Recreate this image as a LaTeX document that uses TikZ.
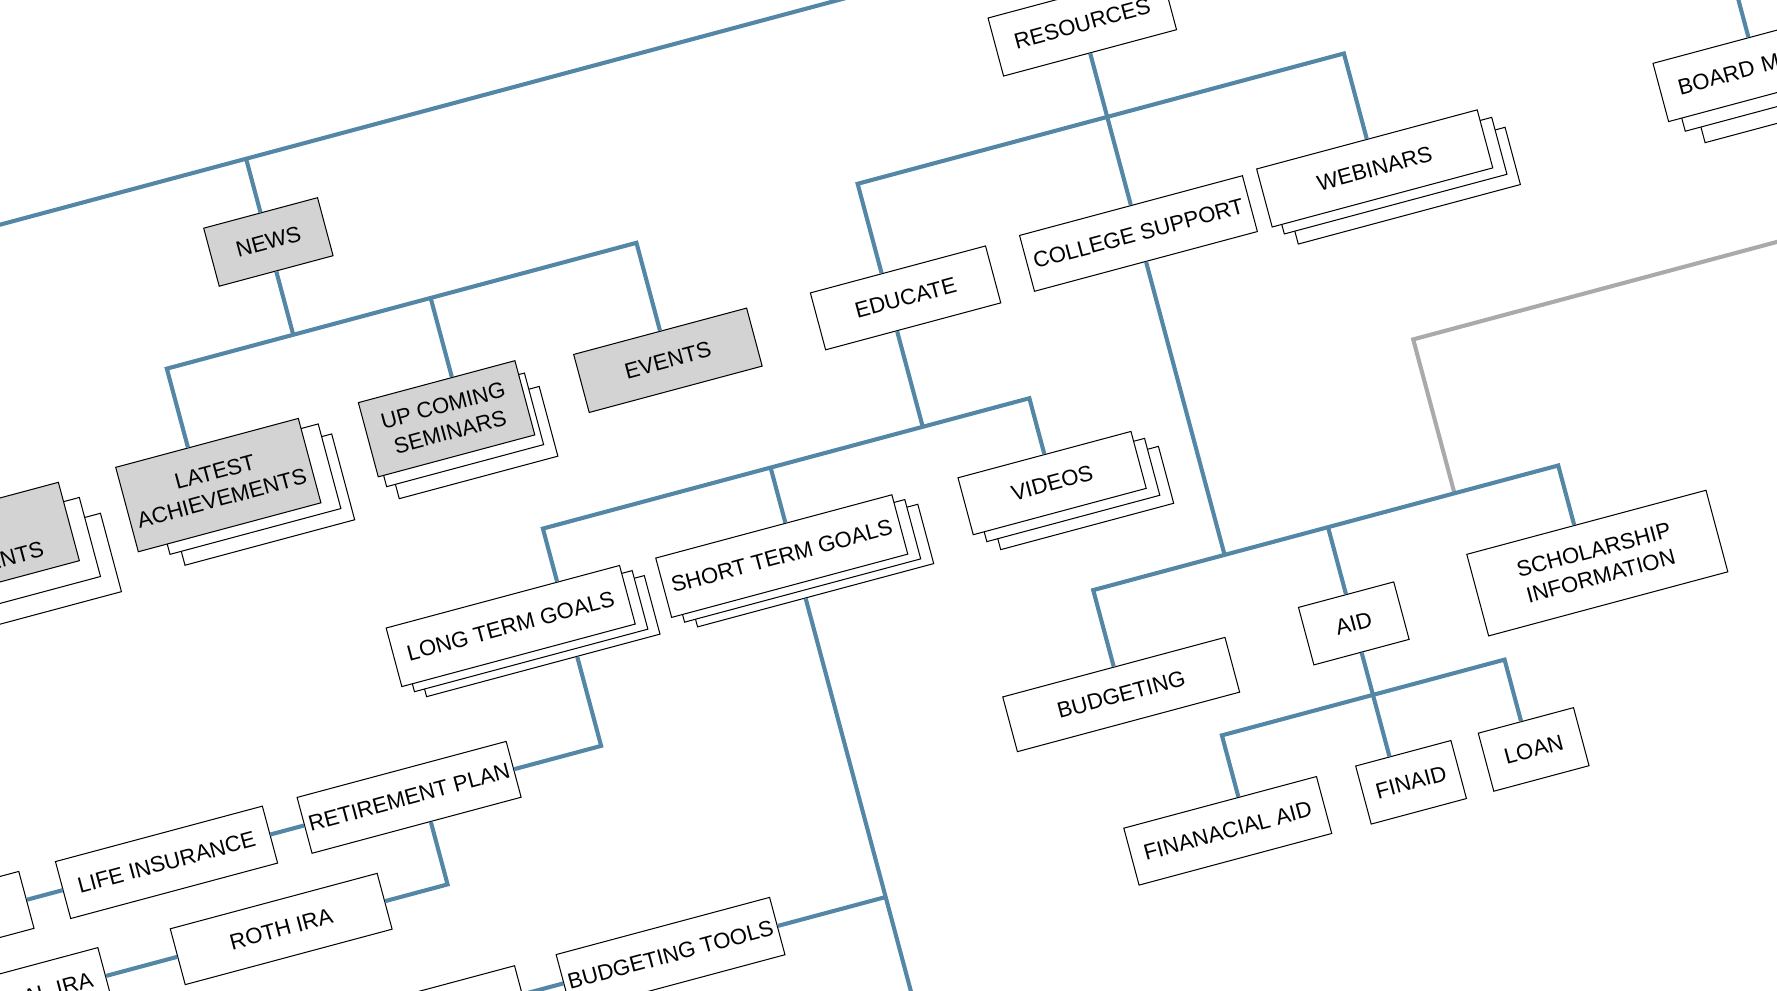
\documentclass[tikz,border=0pt]{standalone}
\usepackage{fontspec}
\setmainfont{Liberation Sans}
\definecolor{linkblue}{RGB}{84,134,166}
\definecolor{linkgray}{RGB}{170,170,170}
\definecolor{boxgray}{RGB}{211,211,211}
\tikzset{
  box/.style={draw=black, line width=0.9pt, fill=white, rectangle, inner sep=0pt, align=center, text=black, font=\fontsize{19.5}{24}\selectfont},
  gbox/.style={box, fill=boxgray},
  conn/.style={draw=linkblue, line width=3.6pt},
  gconn/.style={draw=linkgray, line width=3.6pt},
  shbox/.style={draw=black, line width=0.9pt, fill=white},
  lbl/.style={inner sep=0pt, text=black, font=\fontsize{19.5}{24}\selectfont},
}
\begin{document}
\begin{tikzpicture}[x=1pt,y=1pt]
\useasboundingbox (0,0) rectangle (1568,-873.6);
\fill[white] (0,0) rectangle (1568,-873.6);
\clip (0,0) rectangle (1568,-873.6);
\begin{scope}[transform canvas={rotate=15}]
% ---------- level 1
\node[gbox, minimum width=104, minimum height=53] (news) at (173.5,-267.5) {NEWS};
\node[box, minimum width=158, minimum height=53] (resources) at (917,-267.5) {RESOURCES};
% ---------- level 2
\draw[shbox] (-198.6,-532) rectangle (-31.6,-460.4);
\draw[shbox] (-213,-514.3) rectangle (-46,-442.1);
\node[gbox, minimum width=167, minimum height=71.6] (ents) at (-143.9,-460.2) {};
\node[lbl, anchor=base east] (entslbl) at (-88.3,-484) {ENTS};
\draw[shbox] (28.6,-524) rectangle (183.6,-445.6);
\draw[shbox] (18.3,-511.3) rectangle (174.4,-434);
\node[gbox, minimum width=166.8, minimum height=77.1] (latest) at (75.3,-463.3) {LATEST\\ACHIEVEMENTS};
\draw[shbox] (226.4,-516.2) rectangle (371.3,-452.5);
\draw[shbox] (218.4,-503.1) rectangle (361.8,-437.7);
\node[gbox, minimum width=143, minimum height=67.8] (upcoming) at (285,-458.9) {UP COMING\\SEMINARS};
\node[gbox, minimum width=158, minimum height=53] (events) at (487,-459.6) {EVENTS};
\node[box, minimum width=160, minimum height=52] (educate) at (703.8,-460.7) {EDUCATE};
\node[box, minimum width=203.6, minimum height=51] (college) at (917,-459) {COLLEGE SUPPORT};
\draw[shbox] (1050.8,-504.5) rectangle (1253.7,-452.2);
\draw[shbox] (1041.2,-492.7) rectangle (1244.6,-440.7);
\node[box, minimum width=201.5, minimum height=53] (webinars) at (1133.2,-457.5) {WEBINARS};
\draw[shbox] (1420.7,-511) rectangle (1625.7,-457.8);
\draw[shbox] (1406.4,-496.7) rectangle (1611.4,-443.5);
\node[box, minimum width=205, minimum height=53.2, text width=173, align=left] (board) at (1496.9,-458.1) {BOARD M};
% ---------- level 3
\draw[shbox] (204.5,-691.2) rectangle (417.7,-637.7);
\draw[shbox] (195.3,-684.2) rectangle (408.5,-630.7);
\node[box, minimum width=213.2, minimum height=53.5] (long) at (292.3,-650.2) {LONG TERM GOALS};
\draw[shbox] (451.4,-693.6) rectangle (667.1,-639.4);
\draw[shbox] (441.4,-686.6) rectangle (657.1,-632.4);
\node[box, minimum width=215.7, minimum height=54.2] (short) at (539.3,-652.5) {SHORT TERM GOALS};
\draw[shbox] (727.4,-697) rectangle (885.4,-645);
\draw[shbox] (717.4,-687) rectangle (875.4,-635);
\node[box, minimum width=158, minimum height=52] (videos) at (786.4,-652) {VIDEOS};
\node[box, minimum width=203, minimum height=50] (budgeting) at (797,-848) {BUDGETING};
\node[box, minimum width=87, minimum height=52.5] (aid) at (1011.5,-840.5) {AID};
\node[box, minimum width=218.5, minimum height=74.5] (scholar) at (1232.8,-844.7) {SCHOLARSHIP\\INFORMATION};
% ---------- lower rows
\node[box, minimum width=191, minimum height=51] (retire) at (166.6,-773) {RETIREMENT PLAN};
\node[box, minimum width=189, minimum height=52] (life) at (-55,-773) {LIFE INSURANCE};
\node[box, minimum width=189, minimum height=52] (lboxa) at (-277.5,-773) {};
\node[box, minimum width=189, minimum height=51] (roth) at (27.5,-856) {ROTH IRA};
\node[box, minimum width=210, minimum height=52, text width=186, align=right] (ira) at (-238,-856) {AL IRA};
\node[box, minimum width=195, minimum height=52.4] (budtools) at (353.5,-966.8) {BUDGETING TOOLS};
\node[box, minimum width=191, minimum height=52.4] (lboxb) at (122.5,-966.8) {};
\node[box, minimum width=176, minimum height=52] (finan) at (856.7,-988.5) {FINANACIAL AID};
\node[box, minimum width=87, minimum height=53] (finaid) at (1024,-989) {FINAID};
\node[box, minimum width=87, minimum height=53] (loan) at (1136,-989) {LOAN};
% ---------- coordinates
\coordinate (topL) at (-300,-191.5);
\coordinate (topR) at (1800,-191.5);
\coordinate (newsbar) at (173.5,-352.3);
\coordinate (resbar) at (917,-352.5);
\coordinate (boardbar) at (1481.7,-352.5);
\coordinate (edubar) at (689,-574.5);
\coordinate (collbar) at (917,-752.6);
\coordinate (graybase) at (1127,-752.6);
\coordinate (grayend) at (1700,-612);
\coordinate (aidbar) at (1011.5,-905.8);
\coordinate (shortend) at (550,-1100);
% ---------- connectors
\draw[conn] (topL) -- (topR);
\draw[conn] (news.north) -- (news.north |- topL);
\draw[conn] (resources.north) -- (resources.north |- topL);
\draw[conn] (news.south) -- (newsbar);
\draw[conn] ([xshift=-17.3]latest.north) |- (newsbar) -| (events.north);
\draw[conn] ([xshift=14]upcoming.north) -- ([xshift=14]upcoming.north |- newsbar);
\draw[conn] (resources.south) -- (college.north);
\draw[conn] ([xshift=-14.8]educate.north) |- (resbar) -| (webinars.north);
\draw[conn] ([xshift=-15.2]board.north) -- (boardbar);
\draw[conn] ([xshift=-14.8]educate.south) -- (edubar);
\draw[conn] ([xshift=49.7]long.north) |- (edubar) -| (videos.north);
\draw[conn] ([xshift=10.7]short.north) -- ([xshift=10.7]short.north |- edubar);
\draw[conn] ([xshift=49.7,yshift=-14.2]long.south) |- (retire.east);
\draw[conn] ([xshift=12.9]retire.south) |- (roth.east);
\draw[conn] (life.east) -- (retire.west);
\draw[conn] (lboxa.east) -- (life.west);
\draw[conn] (ira.east) -- (roth.west);
\draw[conn] ([xshift=10.7,yshift=-14]short.south) -- (shortend);
\draw[conn] (budtools.east) -- (budtools.east -| shortend);
\draw[conn] (lboxb.east) -- (budtools.west);
\draw[conn] (college.south) -- (collbar);
\draw[gconn] (graybase) |- (grayend);
\draw[conn] (budgeting.north) |- (collbar) -| ([xshift=-11]scholar.north);
\draw[conn] (aid.north) -- (aid.north |- collbar);
\draw[conn] (aid.south) -- (aidbar);
\draw[conn] ([xshift=16.8]finan.north) |- (aidbar) -| ([xshift=-4.3]loan.north);
\draw[conn] ([xshift=-12.5]finaid.north) -- ([xshift=-12.5]finaid.north |- aidbar);
\end{scope}
\end{tikzpicture}
\end{document}
